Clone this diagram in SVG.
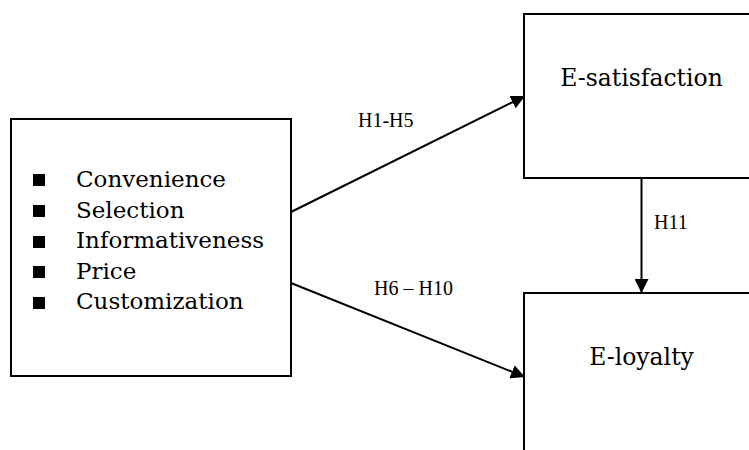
<svg xmlns="http://www.w3.org/2000/svg" width="749" height="450" viewBox="0 0 749 450">
<style>
.box{fill:#fff;stroke:#000;stroke-width:2}
.item{font-family:"DejaVu Serif","Liberation Serif",serif;font-size:23px;fill:#000}
.lbl{font-family:"Liberation Serif",serif;font-size:20px;fill:#000}
.big{font-family:"DejaVu Serif","Liberation Serif",serif;font-size:23.5px;fill:#000;text-anchor:middle}
.edge{stroke:#000;stroke-width:2;fill:none;marker-end:url(#ah)}
.bul{fill:#000}
</style>
<defs>
<marker id="ah" viewBox="0 0 14 14" refX="14" refY="7" markerWidth="14" markerHeight="14" markerUnits="userSpaceOnUse" orient="auto">
<path d="M0,0 L14,7 L0,14 Z" fill="#000"/>
</marker>
</defs>
<g id="connectors">
<line class="edge" x1="291" y1="212" x2="525" y2="96"/>
<line class="edge" x1="291" y1="283" x2="525" y2="377"/>
<line class="edge" x1="641.5" y1="178" x2="641.5" y2="293"/>
<text class="lbl" x="358" y="126.5">H1-H5</text>
<text class="lbl" x="374" y="295">H6 – H10</text>
<text class="lbl" x="654" y="229">H11</text>
</g>
<g id="antecedents">
<rect class="box" x="11" y="119" width="280" height="257"/>
<rect class="bul" x="33" y="174" width="12" height="12"/>
<rect class="bul" x="33" y="205" width="12" height="12"/>
<rect class="bul" x="33" y="236" width="12" height="12"/>
<rect class="bul" x="33" y="266" width="12" height="12"/>
<rect class="bul" x="33" y="297" width="12" height="12"/>
<text class="item" x="76" y="187">Convenience</text>
<text class="item" x="76" y="217.5">Selection</text>
<text class="item" x="76" y="248">Informativeness</text>
<text class="item" x="76" y="278.5">Price</text>
<text class="item" x="76" y="309">Customization</text>
</g>
<g id="e-satisfaction">
<rect class="box" x="524" y="14" width="240" height="164"/>
<text class="big" x="641.5" y="86">E-satisfaction</text>
</g>
<g id="e-loyalty">
<rect class="box" x="524" y="293" width="240" height="180"/>
<text class="big" x="641.5" y="365">E-loyalty</text>
</g>
</svg>
